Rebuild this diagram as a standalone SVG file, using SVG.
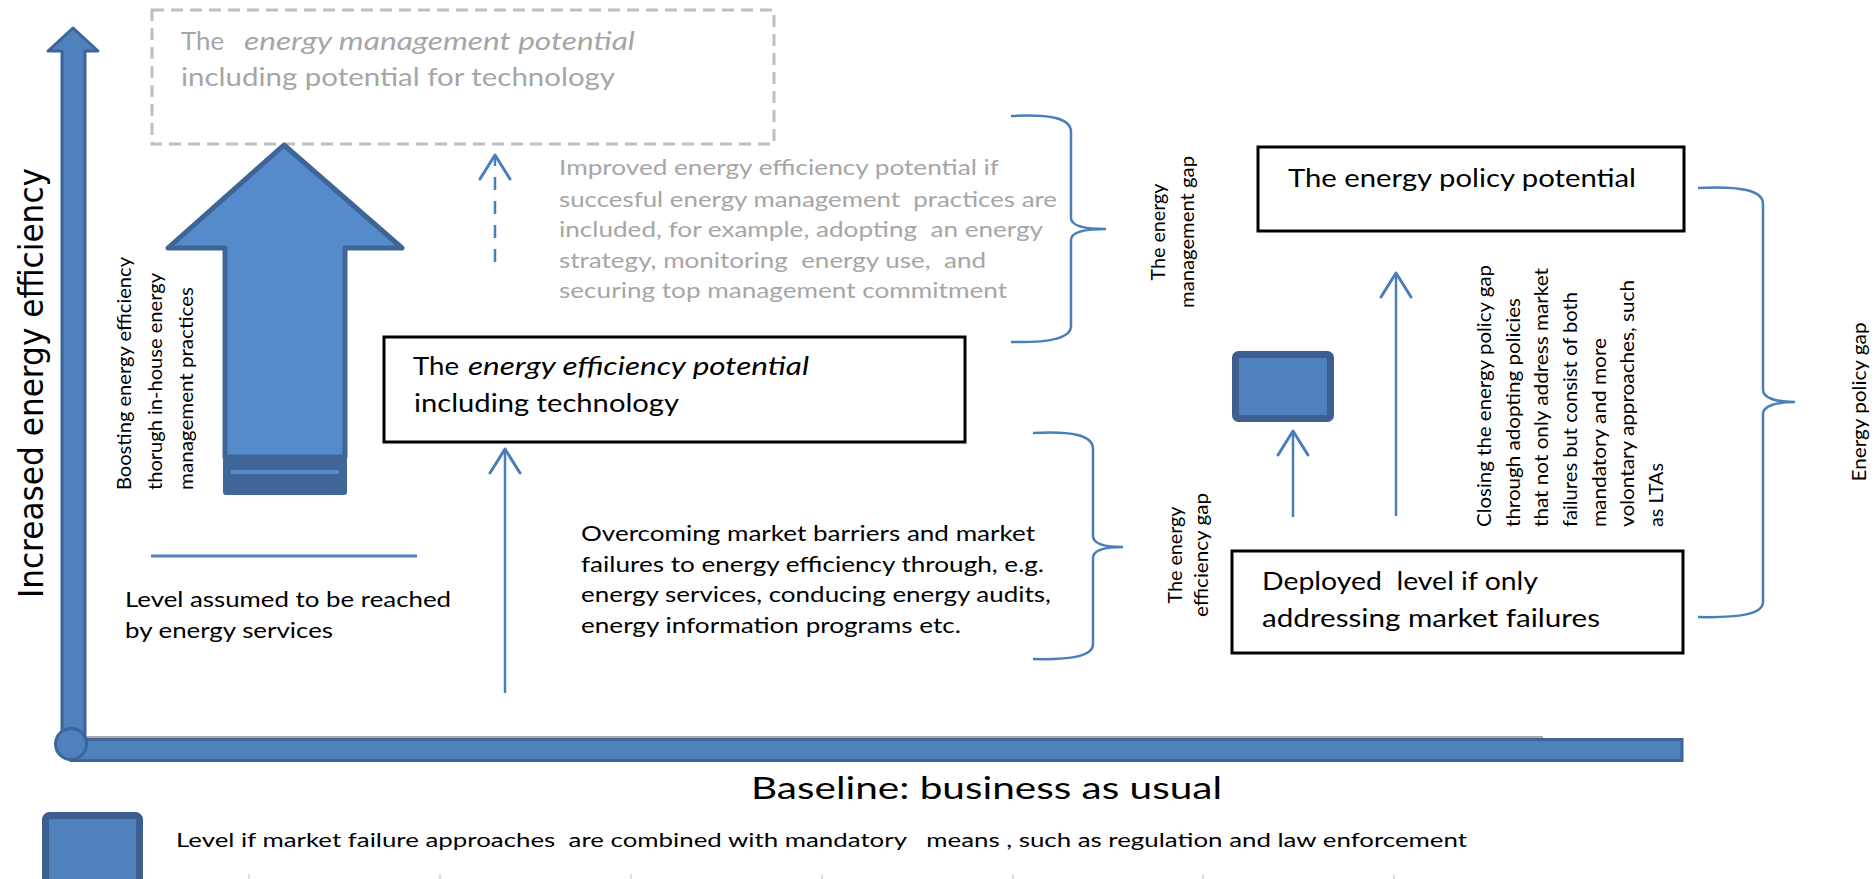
<svg xmlns="http://www.w3.org/2000/svg" width="1875" height="879" viewBox="0 0 1875 879">
  <defs>
    <style>
      .t { font-family: Lato, "Open Sans", "Liberation Sans", sans-serif; fill: #000; white-space: pre; }
      .g { fill: #a6a6a6; }
      .i { font-style: italic; }
      .box { fill: #fff; stroke: #000; stroke-width: 3; }
      .conn { fill: none; stroke: #4a7ebb; stroke-width: 2.5; }
      .blk { fill: #4f81bd; stroke: #3c5f8f; }
    </style>
    <marker id="open" markerUnits="userSpaceOnUse" viewBox="-30 -20 40 40" refX="0" refY="0" markerWidth="40" markerHeight="40" orient="auto">
      <path d="M -24 -15 L 0 0 L -24 15" fill="none" stroke="#4a7ebb" stroke-width="3" stroke-dasharray="none" stroke-linejoin="round" stroke-linecap="round"/>
    </marker>
  </defs>

  <rect width="1875" height="879" fill="#fff"/>

  <!-- axes -->
  <g id="axes">
    <line x1="71" y1="737" x2="1543" y2="737" stroke="#a9a9a9" stroke-width="2"/>
    <rect x="71" y="739.5" width="1611" height="21" fill="#4f81bd" stroke="#3e6599" stroke-width="3"/>
    <path d="M73,28 L98,51 L85,51 L85,744 L62,744 L62,51 L48,51 Z" fill="#4f81bd" stroke="#3e6599" stroke-width="3" stroke-linejoin="round"/>
    <circle cx="71" cy="744" r="15.5" fill="#4f81bd" stroke="#3e6599" stroke-width="3"/>
    <text class="t" transform="translate(43,598) rotate(-90)" font-family="'DejaVu Sans', Verdana, sans-serif" style="font-family:'DejaVu Sans', Verdana, sans-serif" font-size="34" textLength="430" lengthAdjust="spacingAndGlyphs">Increased energy efficiency</text>
    <text class="t" x="751" y="799" font-size="31" textLength="471" lengthAdjust="spacingAndGlyphs">Baseline: business as usual</text>
    <g stroke="#d3d3d3" stroke-width="1.5">
      <line x1="249" y1="874" x2="249" y2="879"/>
      <line x1="440" y1="874" x2="440" y2="879"/>
      <line x1="631" y1="874" x2="631" y2="879"/>
      <line x1="822" y1="874" x2="822" y2="879"/>
      <line x1="1013" y1="874" x2="1013" y2="879"/>
      <line x1="1203" y1="874" x2="1203" y2="879"/>
      <line x1="1394" y1="874" x2="1394" y2="879"/>
    </g>
  </g>

  <!-- management potential (dashed) -->
  <g id="management-potential">
    <rect x="152" y="10" width="622" height="134" fill="none" stroke="#bfbfbf" stroke-width="3" stroke-dasharray="12 7"/>
    <text class="t g" x="181" y="50" font-size="25" textLength="43" lengthAdjust="spacingAndGlyphs">The</text>
    <text class="t g i" x="244" y="50" font-size="25" textLength="391" lengthAdjust="spacingAndGlyphs">energy management potential</text>
    <text class="t g" x="181" y="86" font-size="25" textLength="434" lengthAdjust="spacingAndGlyphs">including potential for technology</text>
  </g>

  <!-- big block arrow -->
  <g id="boost-arrow">
    <path d="M284,145 L402,248 L345,248 L345,457 L225,457 L225,248 L168,248 Z" fill="#558bcb" stroke="#3f6597" stroke-width="5" stroke-linejoin="round"/>
    <rect x="223" y="457" width="124" height="38" rx="3" fill="#41669a"/>
    <rect x="231" y="470" width="108" height="4" fill="#5a8ac6"/>
    <text class="t" transform="translate(131,490) rotate(-90)" font-size="18.5" textLength="233" lengthAdjust="spacingAndGlyphs">Boosting energy efficiency</text>
    <text class="t" transform="translate(162,490) rotate(-90)" font-size="18.5" textLength="217" lengthAdjust="spacingAndGlyphs">thorugh in-house energy</text>
    <text class="t" transform="translate(193,490) rotate(-90)" font-size="18.5" textLength="203" lengthAdjust="spacingAndGlyphs">management practices</text>
  </g>

  <!-- management practices note -->
  <g id="management-note">
    <text class="t g" x="559" y="175" font-size="20.5" textLength="440" lengthAdjust="spacingAndGlyphs">Improved energy efficiency potential if</text>
    <text class="t g" x="559" y="207" font-size="20.5" textLength="498" lengthAdjust="spacingAndGlyphs">succesful energy management  practices are</text>
    <text class="t g" x="559" y="237" font-size="20.5" textLength="484" lengthAdjust="spacingAndGlyphs">included, for example, adopting  an energy</text>
    <text class="t g" x="559" y="268" font-size="20.5" textLength="427" lengthAdjust="spacingAndGlyphs">strategy, monitoring  energy use,  and</text>
    <text class="t g" x="559" y="298" font-size="20.5" textLength="448" lengthAdjust="spacingAndGlyphs">securing top management commitment</text>
  </g>

  <!-- energy efficiency potential -->
  <g id="efficiency-potential">
    <rect class="box" x="384" y="337" width="581" height="105"/>
    <text class="t" x="413" y="375" font-size="25" textLength="46" lengthAdjust="spacingAndGlyphs">The</text>
    <text class="t i" x="468" y="375" font-size="25" textLength="341" lengthAdjust="spacingAndGlyphs">energy efficiency potential</text>
    <text class="t" x="414" y="412" font-size="25" textLength="265" lengthAdjust="spacingAndGlyphs">including technology</text>
  </g>

  <!-- energy services level -->
  <g id="services-level">
    <line x1="151" y1="556" x2="417" y2="556" stroke="#4f81bd" stroke-width="3"/>
    <text class="t" x="125" y="607" font-size="20.5" textLength="326" lengthAdjust="spacingAndGlyphs">Level assumed to be reached</text>
    <text class="t" x="125" y="638" font-size="20.5" textLength="208" lengthAdjust="spacingAndGlyphs">by energy services</text>
  </g>

  <!-- market barriers note -->
  <g id="market-note">
    <text class="t" x="581" y="541" font-size="20.5" textLength="454" lengthAdjust="spacingAndGlyphs">Overcoming market barriers and market</text>
    <text class="t" x="581" y="572" font-size="20.5" textLength="463" lengthAdjust="spacingAndGlyphs">failures to energy efficiency through, e.g.</text>
    <text class="t" x="581" y="602" font-size="20.5" textLength="470" lengthAdjust="spacingAndGlyphs">energy services, conducing energy audits,</text>
    <text class="t" x="581" y="633" font-size="20.5" textLength="380" lengthAdjust="spacingAndGlyphs">energy information programs etc.</text>
  </g>

  <!-- gap labels -->
  <g id="management-gap">
    <text class="t" transform="translate(1165,232) rotate(-90)" text-anchor="middle" font-size="18.5" textLength="97" lengthAdjust="spacingAndGlyphs">The energy</text>
    <text class="t" transform="translate(1194,232) rotate(-90)" text-anchor="middle" font-size="18.5" textLength="152" lengthAdjust="spacingAndGlyphs">management gap</text>
  </g>
  <g id="efficiency-gap">
    <text class="t" transform="translate(1182,555) rotate(-90)" text-anchor="middle" font-size="18.5" textLength="97" lengthAdjust="spacingAndGlyphs">The energy</text>
    <text class="t" transform="translate(1208,555) rotate(-90)" text-anchor="middle" font-size="18.5" textLength="124" lengthAdjust="spacingAndGlyphs">efficiency gap</text>
  </g>
  <g id="policy-gap">
    <text class="t" transform="translate(1866,402) rotate(-90)" text-anchor="middle" font-size="18.5" textLength="159" lengthAdjust="spacingAndGlyphs">Energy policy gap</text>
  </g>

  <!-- energy policy potential -->
  <g id="policy-potential">
    <rect class="box" x="1258" y="147" width="426" height="84"/>
    <text class="t" x="1288" y="187" font-size="25" textLength="348" lengthAdjust="spacingAndGlyphs">The energy policy potential</text>
  </g>

  <!-- mandatory means level -->
  <g id="mandatory-level">
    <rect class="blk" x="1235.5" y="354.5" width="95" height="64" rx="3" stroke-width="7"/>
  </g>

  <!-- policy gap explanation -->
  <g id="policy-note">
    <text class="t" transform="translate(1491,527) rotate(-90)" font-size="18.5" textLength="262" lengthAdjust="spacingAndGlyphs">Closing the energy policy gap</text>
    <text class="t" transform="translate(1520,527) rotate(-90)" font-size="18.5" textLength="229" lengthAdjust="spacingAndGlyphs">through adopting policies</text>
    <text class="t" transform="translate(1548,527) rotate(-90)" font-size="18.5" textLength="259" lengthAdjust="spacingAndGlyphs">that not only address market</text>
    <text class="t" transform="translate(1577,527) rotate(-90)" font-size="18.5" textLength="235" lengthAdjust="spacingAndGlyphs">failures but consist of both</text>
    <text class="t" transform="translate(1606,527) rotate(-90)" font-size="18.5" textLength="189" lengthAdjust="spacingAndGlyphs">mandatory and more</text>
    <text class="t" transform="translate(1634,527) rotate(-90)" font-size="18.5" textLength="247" lengthAdjust="spacingAndGlyphs">volontary approaches, such</text>
    <text class="t" transform="translate(1663,527) rotate(-90)" font-size="18.5" textLength="64" lengthAdjust="spacingAndGlyphs">as LTAs</text>
  </g>

  <!-- deployed level -->
  <g id="deployed-level">
    <rect class="box" x="1232" y="551" width="451" height="102"/>
    <text class="t" x="1262" y="590" font-size="25" textLength="276" lengthAdjust="spacingAndGlyphs">Deployed  level if only</text>
    <text class="t" x="1262" y="627" font-size="25" textLength="338" lengthAdjust="spacingAndGlyphs">addressing market failures</text>
  </g>

  <!-- legend -->
  <g id="legend">
    <rect class="blk" x="45.5" y="815.5" width="94" height="80" rx="4" stroke-width="7"/>
    <text class="t" x="176" y="847" font-size="19.5" textLength="1291" lengthAdjust="spacingAndGlyphs">Level if market failure approaches  are combined with mandatory   means , such as regulation and law enforcement</text>
  </g>

  <!-- connectors: arrows and braces -->
  <g id="connectors">
    <path class="conn" d="M495,262 L495,155" stroke-dasharray="13 11" marker-end="url(#open)"/>
    <path class="conn" d="M505,693 L505,449" marker-end="url(#open)"/>
    <path class="conn" d="M1293,517 L1293,431" marker-end="url(#open)"/>
    <path class="conn" d="M1396,516 L1396,273" marker-end="url(#open)"/>
    <path class="conn" stroke-width="3" d="M1011,116 C1050,114 1071,118 1071,132 L1071,218 C1071,226 1085,229 1106,229 C1085,229 1071,232 1071,240 L1071,326 C1071,338 1050,343 1011,342"/>
    <path class="conn" stroke-width="3" d="M1033,433 C1072,431 1093,435 1093,449 L1093,536 C1093,544 1105,547 1123,547 C1105,547 1093,550 1093,558 L1093,644 C1093,656 1072,660 1033,659"/>
    <path class="conn" stroke-width="3" d="M1698,188 C1740,186 1763,190 1763,204 L1763,390 C1763,398 1776,402 1795,402 C1776,402 1763,406 1763,414 L1763,602 C1763,614 1740,618 1698,617"/>
  </g>
</svg>
